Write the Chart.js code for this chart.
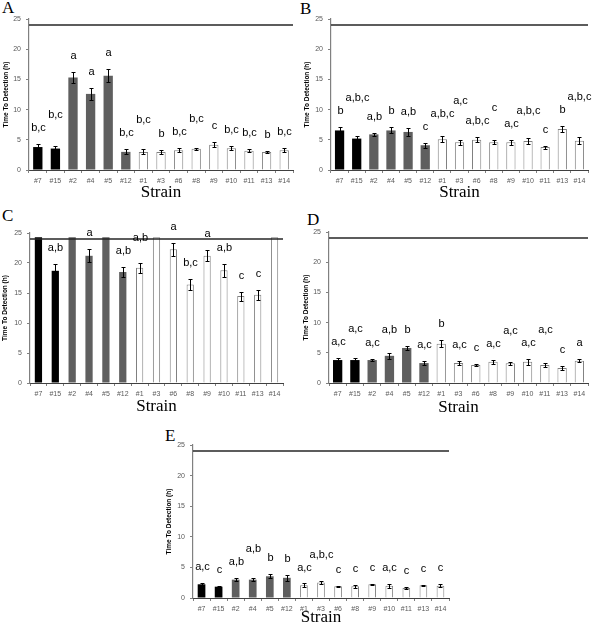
<!DOCTYPE html>
<html><head><meta charset="utf-8">
<script src="https://cdn.jsdelivr.net/npm/chart.js@4/dist/chart.umd.min.js"></script>
<style>
html,body{margin:0;padding:0;background:#fff;}
body{width:592px;height:630px;position:relative;overflow:hidden;}
canvas{position:absolute;}
.plabel{position:absolute;font-family:"Liberation Serif",serif;font-size:17px;line-height:17px;color:#000;}
</style></head><body>
<div class="plabel" style="left:2px;top:-1px">A</div>
<div class="plabel" style="left:300px;top:0px">B</div>
<div class="plabel" style="left:2px;top:207px">C</div>
<div class="plabel" style="left:307px;top:211px">D</div>
<div class="plabel" style="left:165px;top:427px">E</div>
<canvas id="cA"></canvas>
<canvas id="cB"></canvas>
<canvas id="cC"></canvas>
<canvas id="cD"></canvas>
<canvas id="cE"></canvas>
<script>
// ---------- data ----------
const strains = ['#7','#15','#2','#4','#5','#12','#1','#3','#6','#8','#9','#10','#11','#13','#14'];
const strainGroup = ['black','black','grey','grey','grey','grey','white','white','white','white','white','white','white','white','white'];
const detectionLimit = 24;
const yMax = 25;
const yStep = 5;

const meanA = [3.8,3.55,15.3,12.6,15.6,3.0,3.0,3.0,3.25,3.5,4.2,3.6,3.2,3.0,3.25];
const errA  = [0.45,0.5,0.9,1.0,1.1,0.4,0.4,0.35,0.35,0.2,0.4,0.35,0.3,0.2,0.35];
const lettersA = ['b,c','b,c','a','a','a','b,c','b,c','b','b,c','b,c','c','b,c','b,c','b','b,c'];

const meanB = [6.55,5.2,5.9,6.55,6.3,4.1,5.1,4.6,5.0,4.6,4.6,4.8,3.8,6.8,4.85];
const errB  = [0.5,0.4,0.3,0.5,0.6,0.4,0.45,0.4,0.4,0.3,0.4,0.55,0.25,0.5,0.6];
const lettersB = ['b','a,b,c','a,b','b','a,b','c','a,b,c','a,c','a,b,c','c','a,c','a,b,c','c','b','a,b,c'];

const meanC = [24.3,18.7,24.3,21.2,24.3,18.5,19.2,24.3,22.3,16.4,21.2,18.8,14.5,14.7,24.3];
const errC  = [0,1.1,0,1.1,0,0.9,0.85,0,1.1,0.95,0.95,1.1,0.75,0.8,0];
const lettersC = ['','a,b','','a','','a,b','a,b','','a','b,c','a','a,b','c','c',''];

const meanD = [3.8,3.8,3.8,4.5,5.8,3.3,6.5,3.3,3.0,3.5,3.25,3.5,3.0,2.5,3.7];
const errD  = [0.4,0.4,0.2,0.5,0.3,0.35,0.55,0.3,0.2,0.35,0.2,0.5,0.3,0.3,0.2];
const lettersD = ['a,c','a,c','a,c','a,b','b','a,c','b','a,c','c','a,c','a,c','a,c','a,c','c','a'];

const meanE = [2.24,1.85,3.0,3.0,3.55,3.3,2.07,2.55,1.9,1.9,2.24,2.0,1.65,2.07,2.0];
const errE  = [0.2,0.1,0.25,0.25,0.3,0.45,0.3,0.3,0.1,0.2,0.1,0.3,0.2,0.1,0.25];
const lettersE = ['a,c','c','a,b','a,b','b','b','a,c','a,b,c','c','c','c','a,c','c','c','c'];

// ---------- styles ----------
const groupFill = {black:'#000000', grey:'#5f5f5f', white:'#ffffff'};
const groupBorder = {black:'#000000', grey:'#5f5f5f', white:'#808080'};
const groupBorderWidth = {black:0, grey:0, white:1};
const letterFont = '11px "Liberation Sans"';
const letterH = 10;

const errorBarsPlugin = {
  id: 'errorBars',
  afterDatasetsDraw(chart, args, opts) {
    const ctx = chart.ctx;
    const x = chart.scales.x, y = chart.scales.y;
    const ca = chart.chartArea;
    const ds = chart.data.datasets[0];
    ctx.save();
    // detection limit line
    const ly = Math.round(y.getPixelForValue(detectionLimit));
    ctx.strokeStyle = '#262626';
    ctx.lineWidth = 1.6;
    ctx.beginPath();
    ctx.moveTo(ca.left, ly);
    ctx.lineTo(ca.right, ly);
    ctx.stroke();
    // error bars + letters
    ctx.font = letterFont;
    let prev = null;
    ds.data.forEach((v, i) => {
      const cx = Math.round(x.getPixelForValue(i)) + 0.5;
      const e = opts.errors[i];
      let topVal = v;
      if (e > 0) {
        const y1 = Math.round(y.getPixelForValue(v + e)) + 0.5;
        const y0 = Math.round(y.getPixelForValue(v - e)) + 0.5;
        ctx.strokeStyle = '#000';
        ctx.lineWidth = 1;
        ctx.beginPath();
        ctx.moveTo(cx, y0); ctx.lineTo(cx, y1);
        ctx.moveTo(cx - 2, y0); ctx.lineTo(cx + 2, y0);
        ctx.moveTo(cx - 2, y1); ctx.lineTo(cx + 2, y1);
        ctx.stroke();
        topVal = v + e;
      }
      const t = opts.letters[i];
      if (t) {
        const w = ctx.measureText(t).width;
        let ty = y.getPixelForValue(topVal) - 16;
        if (prev && Math.abs(cx - prev.cx) < (w + prev.w) / 2 + 3 && Math.abs(ty - prev.ty) < letterH + 2) {
          ty = prev.ty - letterH - 3;
        }
        ctx.fillStyle = '#000';
        ctx.textAlign = 'center';
        ctx.textBaseline = 'middle';
        ctx.fillText(t, cx, ty);
        prev = {cx, w, ty};
      } else {
        prev = null;
      }
    });
    ctx.restore();
  }
};

function makePanel(id, c) {
  const cv = document.getElementById(id);
  cv.width = c.W; cv.height = c.H;
  cv.style.left = c.X + 'px'; cv.style.top = c.Y + 'px';
  cv.style.width = c.W + 'px'; cv.style.height = c.H + 'px';
  const yTitleSize = 6.5, xTitleSize = 17;
  const padLeft = c.ytX - yTitleSize / 2;
  const padBottom = c.H - (c.strainY + xTitleSize / 2);
  const yWidth = c.L - padLeft;
  const xHeight = (c.H - padBottom) - c.B;
  new Chart(cv, {
    type: 'bar',
    data: {
      labels: strains,
      datasets: [{
        data: c.mean,
        backgroundColor: strainGroup.map(g => groupFill[g]),
        borderColor: strainGroup.map(g => groupBorder[g]),
        borderWidth: strainGroup.map(g => groupBorderWidth[g]),
        barPercentage: c.barPct,
        categoryPercentage: 1
      }]
    },
    options: {
      responsive: false, animation: false, devicePixelRatio: 1,
      layout: {padding: {left: padLeft, top: c.T, right: c.W - c.R, bottom: padBottom}},
      plugins: {
        legend: {display: false}, tooltip: {enabled: false},
        errorBars: {errors: c.err, letters: c.letters}
      },
      scales: {
        x: {
          grid: {display: true, drawOnChartArea: false, drawTicks: true, tickLength: 3, color: '#808080', offset: true},
          border: {display: true, color: '#404040', width: 1},
          ticks: {font: {family: 'Liberation Sans', size: 7}, color: '#595959', padding: 4, maxRotation: 0, autoSkip: false},
          title: {display: true, text: 'Strain', color: '#000', padding: 0,
                  font: {family: 'Liberation Serif', size: xTitleSize, weight: 'normal', lineHeight: 1}},
          afterFit(s) { s.height = xHeight; }
        },
        y: {
          min: 0, max: yMax,
          grid: {display: true, drawOnChartArea: false, drawTicks: true, tickLength: 3, color: '#808080'},
          border: {display: true, color: '#808080', width: 1.2},
          ticks: {stepSize: yStep, font: {family: 'Liberation Sans', size: 7}, color: '#595959', padding: 5},
          title: {display: true, text: 'Time To Detection (h)', color: '#000', padding: 0,
                  font: {family: 'Liberation Sans', size: yTitleSize, weight: 'bold', lineHeight: 1}},
          afterFit(s) { s.width = yWidth; }
        }
      }
    },
    plugins: [errorBarsPlugin]
  });
}

makePanel('cA', {X:0,   Y:0,   W:296, H:205, L:29, T:19, R:293, B:170, ytX:6,    strainY:193,   barPct:0.53, mean:meanA, err:errA, letters:lettersA});
makePanel('cB', {X:295, Y:0,   W:297, H:205, L:36, T:19, R:293, B:170, ytX:12,   strainY:193,   barPct:0.54, mean:meanB, err:errB, letters:lettersB});
makePanel('cC', {X:0,   Y:205, W:296, H:215, L:30, T:28, R:283, B:178, ytX:5,    strainY:202,   barPct:0.43, mean:meanC, err:errC, letters:lettersC});
makePanel('cD', {X:295, Y:205, W:297, H:215, L:34, T:27, R:293, B:178, ytX:11,   strainY:203,   barPct:0.54, mean:meanD, err:errD, letters:lettersD});
makePanel('cE', {X:140, Y:410, W:320, H:220, L:53, T:35, R:309, B:188, ytX:29.5, strainY:208,   barPct:0.45, mean:meanE, err:errE, letters:lettersE});
</script>
</body></html>
